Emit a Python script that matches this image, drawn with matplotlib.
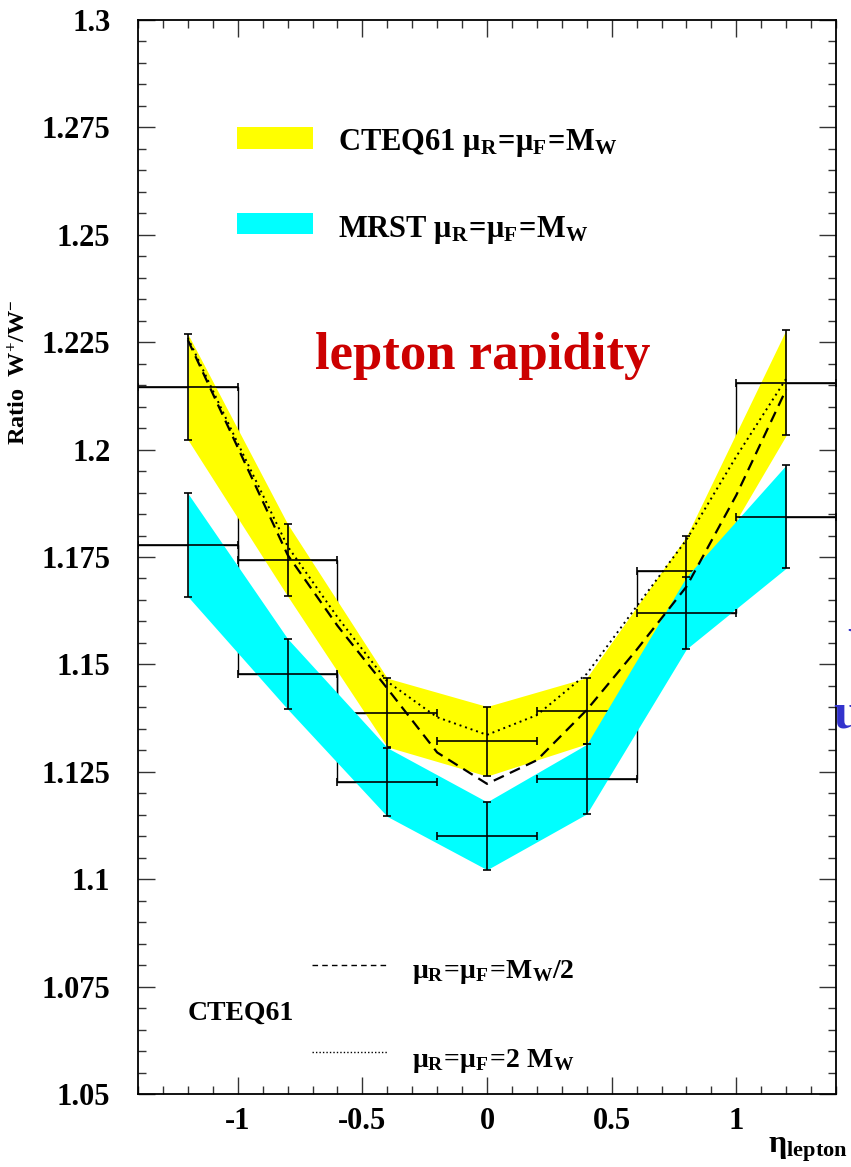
import matplotlib
matplotlib.use("Agg")
import matplotlib.pyplot as plt
from matplotlib.patches import Rectangle
from matplotlib.ticker import MultipleLocator
import numpy as np

plt.rcParams['font.family'] = ['Liberation Serif', 'DejaVu Serif']
plt.rcParams['font.weight'] = 'bold'
plt.rcParams['mathtext.fontset'] = 'custom'
plt.rcParams['mathtext.rm'] = 'Liberation Serif:bold'
plt.rcParams['mathtext.it'] = 'Liberation Serif:italic:bold'
plt.rcParams['mathtext.bf'] = 'Liberation Serif:bold'
plt.rcParams['axes.unicode_minus'] = False

# bins in lepton pseudorapidity
eta = np.array([-1.2, -0.8, -0.4, 0.0, 0.4, 0.8, 1.2])
bin_edges = [-1.4, -1.0, -0.6, -0.2, 0.2, 0.6, 1.0, 1.4]
half_width = 0.2

# CTEQ61, mu_R = mu_F = M_W
cteq = np.array([1.2146, 1.1743, 1.1388, 1.1321, 1.1392, 1.1718, 1.2156])
cteq_err = np.array([0.0123, 0.0084, 0.0080, 0.0081, 0.0077, 0.0080, 0.0123])

# MRST, mu_R = mu_F = M_W
mrst = np.array([1.1778, 1.1478, 1.1226, 1.1101, 1.1233, 1.1620, 1.1844])
mrst_err = np.array([0.0120, 0.0082, 0.0080, 0.0079, 0.0081, 0.0084, 0.0120])

# CTEQ61 scale variations
eta_curve = [-1.2, -1.0, -0.8, -0.6, -0.4, -0.2, 0.0, 0.2, 0.4, 0.6, 0.8, 1.0, 1.2]
half_mw = [1.2255, 1.2005, 1.1755, 1.159, 1.1444, 1.1295, 1.1222, 1.1277, 1.1394, 1.1534, 1.1681, 1.1894, 1.2140]
two_mw = [1.2260, 1.2015, 1.1775, 1.161, 1.1460, 1.1377, 1.1336, 1.1382, 1.1478, 1.1635, 1.1790, 1.1984, 1.2165]

yticks = [1.05, 1.075, 1.1, 1.125, 1.15, 1.175, 1.2, 1.225, 1.25, 1.275, 1.3]
ytick_labels = ['1.05', '1.075', '1.1', '1.125', '1.15', '1.175', '1.2', '1.225', '1.25', '1.275', '1.3']
xticks = [-1, -0.5, 0, 0.5, 1]
xtick_labels = ['-1', '-0.5', '0', '0.5', '1']

fig = plt.figure(figsize=(8.51, 11.67), dpi=100)
ax = fig.add_axes([0.1622, 0.06255, 0.8202, 0.9203])

# histogram steps (partly hidden by the bands)
ax.stairs(cteq, bin_edges, baseline=None, color='black', lw=1.0, zorder=1)
ax.stairs(mrst, bin_edges, baseline=None, color='black', lw=1.0, zorder=1)

ax.fill_between(eta, cteq - cteq_err, cteq + cteq_err, color='#ffff00', lw=0, zorder=2)
ax.errorbar(eta, cteq, xerr=half_width, yerr=cteq_err, fmt='none', ecolor='black',
            elinewidth=1.4, capsize=3, capthick=1.4, alpha=0.85, zorder=3)
ax.fill_between(eta, mrst - mrst_err, mrst + mrst_err, color='#00ffff', lw=0, zorder=4)
ax.errorbar(eta, mrst, xerr=half_width, yerr=mrst_err, fmt='none', ecolor='black',
            elinewidth=1.4, capsize=3, capthick=1.4, alpha=0.85, zorder=5)

ax.plot(eta_curve, half_mw, color='black', lw=1.6, ls=(0, (5, 3)), zorder=6)
ax.plot(eta_curve, two_mw, color='black', lw=1.4, ls=(0, (1, 2)), zorder=6)

ax.set_xlim(-1.4, 1.4)
ax.set_ylim(1.05, 1.3)
ax.set_xticks(xticks)
ax.set_xticklabels(xtick_labels)
ax.set_yticks(yticks)
ax.set_yticklabels(ytick_labels)
ax.xaxis.set_minor_locator(MultipleLocator(0.1))
ax.yaxis.set_minor_locator(MultipleLocator(0.005))
ax.tick_params(which='both', direction='in', top=True, right=True, width=1.0, color='#333333')
ax.tick_params(which='major', length=12)
ax.tick_params(which='minor', length=6)
ax.tick_params(axis='y', which='major', pad=20, labelsize=22)
ax.tick_params(axis='x', which='major', pad=9, labelsize=22)
for s in ax.spines.values():
    s.set_linewidth(1.3)

ax.set_ylabel(r'Ratio  W$^{+}$/W$^{-}$', fontsize=17.5, fontweight='bold')
ax.yaxis.set_label_coords(-0.155, 0.672)
fig.text(0.996, 0.012, r'$\mathrm{η_{lepton}}$', fontsize=23, ha='right', va='baseline')

# top legend
ax.add_patch(Rectangle((0.1418, 0.8799), 0.1089, 0.0205, transform=ax.transAxes,
                       color='#ffff00', lw=0, zorder=7))
ax.add_patch(Rectangle((0.1418, 0.8007), 0.1089, 0.0196, transform=ax.transAxes,
                       color='#00ffff', lw=0, zorder=7))
ax.text(0.2865, 0.879, r'CTEQ61 $\mathrm{μ_R\!=\!μ_F\!=\!M_W}$', transform=ax.transAxes,
        fontsize=22, va='baseline')
ax.text(0.2865, 0.7984, r'MRST $\mathrm{μ_R\!=\!μ_F\!=\!M_W}$', transform=ax.transAxes,
        fontsize=22, va='baseline')

ax.text(0.2536, 0.675, 'lepton rapidity', transform=ax.transAxes, fontsize=38,
        color='#cc0000', va='baseline')

# bottom legend for scale variations
ax.plot([0.2493, 0.3567], [0.1201, 0.1201], transform=ax.transAxes, color='black',
        lw=1.0, ls=(0, (4, 3)))
ax.plot([0.2493, 0.3567], [0.0394, 0.0394], transform=ax.transAxes, color='black',
        lw=1.0, ls=(0, (1, 1.5)))
ax.text(0.3926, 0.108, r'$\mathrm{μ_R\!=\!μ_F\!=\!M_W/2}$', transform=ax.transAxes,
        fontsize=20, va='baseline')
ax.text(0.3926, 0.0254, r'$\mathrm{μ_R\!=\!μ_F\!=\!2\ M_W}$', transform=ax.transAxes,
        fontsize=20, va='baseline')
ax.text(0.0716, 0.0689, 'CTEQ61', transform=ax.transAxes, fontsize=20, va='baseline')

# slide text cut off at the right edge
fig.text(0.979, 0.377, 'u', fontsize=37, color='#3333cc', va='baseline')
fig.text(0.996, 0.433, 'W', fontsize=37, color='#3333cc', va='baseline')

fig.savefig('out.png', dpi=100, facecolor='white')
